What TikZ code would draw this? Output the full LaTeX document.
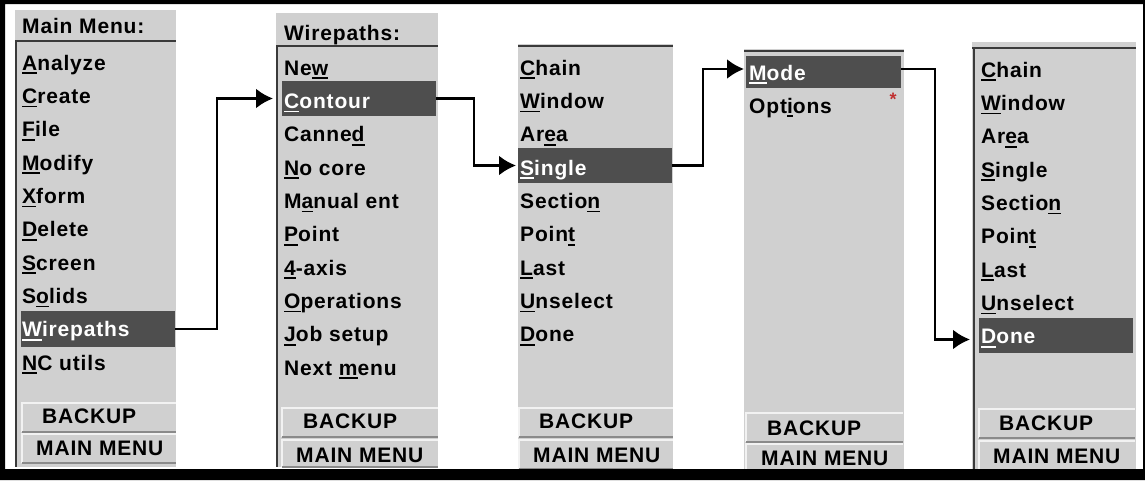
\documentclass[tikz,border=0pt]{standalone}
\usepackage{fontspec}
\setmainfont[LetterSpace=4]{Liberation Sans}
\usetikzlibrary{arrows.meta}
\definecolor{pbg}{HTML}{D0D0D0}
\definecolor{hlc}{HTML}{4E4E4E}
\definecolor{edgec}{HTML}{3A3A3A}
\definecolor{btnlo}{HTML}{8A8A8A}
\definecolor{btnhi}{HTML}{F2F2F2}
\definecolor{starc}{HTML}{C03030}
\newcommand\mn[1]{\setbox0\hbox{#1}\rlap{\rule[-4pt]{\wd0}{1.8pt}}\box0}
\newcommand\mfont{\fontsize{21}{21}\selectfont\bfseries}
\begin{document}
\begin{tikzpicture}[x=1pt,y=-1pt,
  panelbg/.style={fill=pbg,draw=none},
  item/.style={anchor=base west,inner sep=0pt,font=\mfont,text=black},
  hitem/.style={item,text=white},
  hlbox/.style={fill=hlc,draw=none,anchor=north west,inner sep=0pt,outer sep=0pt},
  edgeline/.style={draw=edgec,line width=2pt},
  conn/.style={line width=2.8pt,line join=miter,-{Latex[length=17pt,width=20pt]}}
]
\useasboundingbox (0,0) rectangle (1145,480);
\fill[white] (0,0) rectangle (1145,480);

% ---------- button helper ----------
\def\btn#1#2#3#4{%
  \fill[pbg] (#1,#2) rectangle (#3,#4);
  \draw[btnhi,line width=1.5pt] (#1,#4) -- (#1,#2) -- (#3,#2);
  \draw[btnlo,line width=2pt] (#1,#4) -- (#3,#4);}

% ---------- Panel 1: Main Menu ----------
\fill[panelbg] (15,10) rectangle (176,467);
\draw[edgeline] (15,41) -- (176,41);
\draw[edgeline] (16,41) -- (16,467);
\node[item] (t1) at (22,33) {Main Menu:};
\node[hlbox,minimum width=154pt,minimum height=36pt] (wp) at (21,311) {};
\node[item] (a1) at (22,70)    {\mn{A}nalyze};
\node[item] (a2) at (22,103.3) {\mn{C}reate};
\node[item] (a3) at (22,136.6) {\mn{F}ile};
\node[item] (a4) at (22,170)   {\mn{M}odify};
\node[item] (a5) at (22,203.3) {\mn{X}form};
\node[item] (a6) at (22,236.6) {\mn{D}elete};
\node[item] (a7) at (22,270)   {\mn{S}creen};
\node[item] (a8) at (22,303.3) {S\mn{o}lids};
\node[hitem] (a9) at (22,336.6) {\mn{W}irepaths};
\node[item] (a10) at (22,370)  {\mn{N}C utils};
\btn{22}{403}{176}{432}
\btn{22}{434}{176}{463}
\node[item] (b1) at (42,423) {BACKUP};
\node[item] (m1) at (36,455) {MAIN MENU};

% ---------- Panel 2: Wirepaths ----------
\fill[panelbg] (276,13) rectangle (438,467);
\draw[edgeline] (276,46) -- (438,46);
\draw[edgeline] (277,46) -- (277,467);
\node[item] (t2) at (284,40) {Wirepaths:};
\node[hlbox,minimum width=154pt,minimum height=35pt] (contour) at (282,81) {};
\node[item] (c1) at (284,75)    {Ne\mn{w}};
\node[hitem] (c2) at (284,108.3) {\mn{C}ontour};
\node[item] (c3) at (284,141.6) {Canne\mn{d}};
\node[item] (c4) at (284,175)   {\mn{N}o core};
\node[item] (c5) at (284,208.3) {M\mn{a}nual ent};
\node[item] (c6) at (284,241.6) {\mn{P}oint};
\node[item] (c7) at (284,275)   {\mn{4}-axis};
\node[item] (c8) at (284,308.3) {\mn{O}perations};
\node[item] (c9) at (284,341.6) {\mn{J}ob setup};
\node[item] (c10) at (284,375)  {Next \mn{m}enu};
\btn{282}{408}{438}{437}
\btn{282}{440}{438}{467}
\node[item] (b2) at (303,428) {BACKUP};
\node[item] (m2) at (296,462) {MAIN MENU};

% ---------- Panel 3: selection ----------
\fill[panelbg] (518,44) rectangle (673,469);
\draw[edgeline] (518,46) -- (673,46);
\node[hlbox,minimum width=154pt,minimum height=35pt] (single) at (518,148) {};
\node[item] (s1) at (520,75)    {\mn{C}hain};
\node[item] (s2) at (520,108.3) {\mn{W}indow};
\node[item] (s3) at (520,141.6) {Ar\mn{e}a};
\node[hitem] (s4) at (520,175)  {\mn{S}ingle};
\node[item] (s5) at (520,208.3) {Sectio\mn{n}};
\node[item] (s6) at (520,241.6) {Poin\mn{t}};
\node[item] (s7) at (520,275)   {\mn{L}ast};
\node[item] (s8) at (520,308.3) {\mn{U}nselect};
\node[item] (s9) at (520,341.6) {\mn{D}one};
\btn{519}{408}{673}{437}
\btn{519}{440}{673}{469}
\node[item] (b3) at (539,428) {BACKUP};
\node[item] (m3) at (533,462) {MAIN MENU};

% ---------- Panel 4: Mode ----------
\fill[panelbg] (744,49) rectangle (904,472);
\draw[edgeline] (744,51) -- (904,51);
\node[hlbox,minimum width=155pt,minimum height=32pt] (mode) at (746,56) {};
\node[hitem] (o1) at (749,80) {\mn{M}ode};
\node[item] (o2) at (749,113) {Opt\mn{i}ons};
\node[inner sep=0pt,text=starc,font=\fontsize{18}{18}\selectfont\bfseries] (star) at (893,99) {*};
\btn{746}{413}{903}{442}
\btn{746}{444}{903}{472}
\node[item] (b4) at (767,435) {BACKUP};
\node[item] (m4) at (761,465) {MAIN MENU};

% ---------- Panel 5: selection ----------
\fill[panelbg] (972,42) rectangle (1136,470);
\draw[edgeline] (972,48) -- (1136,48);
\draw[edgeline] (974,48) -- (974,470);
\node[hlbox,minimum width=154pt,minimum height=35pt] (done) at (979,318) {};
\node[item] (d1) at (981,77)    {\mn{C}hain};
\node[item] (d2) at (981,110.3) {\mn{W}indow};
\node[item] (d3) at (981,143.6) {Ar\mn{e}a};
\node[item] (d4) at (981,177)   {\mn{S}ingle};
\node[item] (d5) at (981,210.3) {Sectio\mn{n}};
\node[item] (d6) at (981,243.6) {Poin\mn{t}};
\node[item] (d7) at (981,277)   {\mn{L}ast};
\node[item] (d8) at (981,310.3) {\mn{U}nselect};
\node[hitem] (d9) at (981,343.6) {\mn{D}one};
\btn{979}{409}{1135}{438}
\btn{979}{441}{1135}{470}
\node[item] (b5) at (999,430) {BACKUP};
\node[item] (m5) at (993,463) {MAIN MENU};

% ---------- connectors ----------
\draw[conn] (wp.east) -- ++(42,0) |- ([xshift=-9pt]contour.west);
\draw[conn] (contour.east) -- ++(38,0) |- ([xshift=-2pt]single.west);
\draw[conn] (single.east) -- ++(31,0) |- ([xshift=-2pt,yshift=3pt]mode.west);
\draw[conn] ([yshift=3pt]mode.east) -- ++(34,0) |- ([xshift=-9pt,yshift=-4pt]done.west);

% ---------- outer frame ----------
\fill[black,even odd rule] (0,0) rectangle (1145,480) (5,4) rectangle (1143,469);
\end{tikzpicture}
\end{document}
